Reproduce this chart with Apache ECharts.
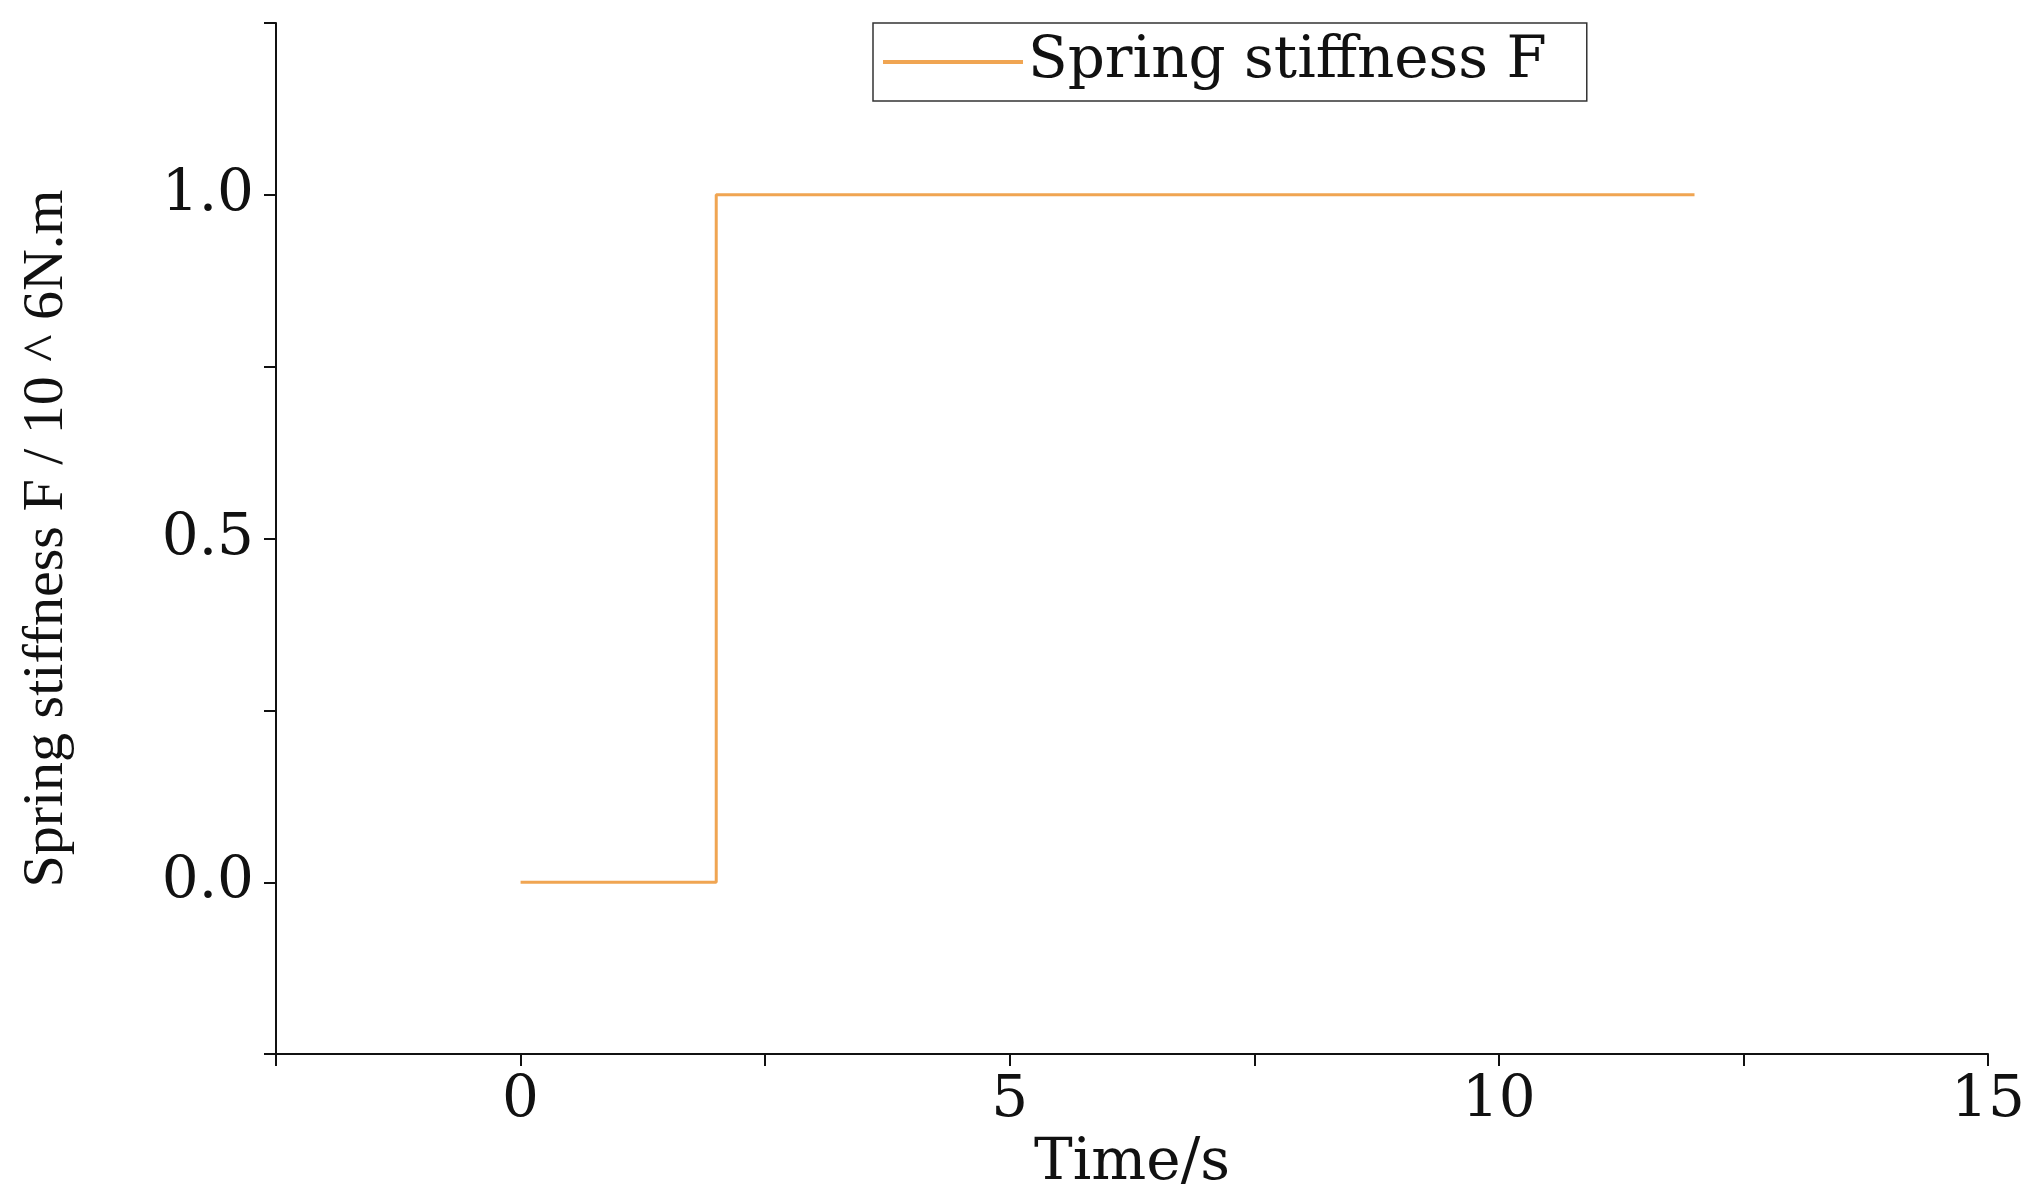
<!DOCTYPE html>
<html><head><meta charset="utf-8">
<script src="https://cdn.jsdelivr.net/npm/echarts@6/dist/echarts.min.js"></script>
<style>html,body{margin:0;padding:0;background:#fff}#c{width:2042px;height:1198px}</style>
</head><body><div id="c"></div>
<script>
const timeValues = [0, 2, 2, 12];
const stiffnessValues = [0, 0, 1, 1];
const seriesName = 'Spring stiffness F';
const xTitle = 'Time/s';
const yTitle = 'Spring stiffness F / 10 ^ 6N.m';

const font = 'DejaVu Serif';
const chart = echarts.init(document.getElementById('c'));
chart.setOption({
  animation: false,
  backgroundColor: '#fff',
  grid: {left: 276, top: 23, right: 54, bottom: 143},
  legend: {
    left: 873, top: 23, width: 765, height: 86,
    padding: [10, 40, 10, 10],
    borderColor: '#333', borderWidth: 1.5, borderRadius: 0,
    itemWidth: 140, itemHeight: 4, itemGap: 10,
    icon: 'rect',
    textStyle: {fontFamily: font, fontSize: 58, color: '#111'},
    data: [seriesName]
  },
  xAxis: {
    type: 'value', min: -2.5, max: 15, interval: 2.5,
    axisLine: {onZero: false, lineStyle: {color: '#111', width: 2}},
    axisTick: {inside: false, length: 12, lineStyle: {width: 2, color: '#111'}},
    splitLine: {show: false},
    axisLabel: {fontFamily: font, fontSize: 58, color: '#111', margin: 18,
      formatter: v => (v >= 0 && Math.abs(v % 5) < 1e-9) ? String(v) : ''},
    name: xTitle, nameLocation: 'middle', nameGap: 66,
    nameTextStyle: {fontFamily: font, fontSize: 58, color: '#111'}
  },
  yAxis: {
    type: 'value', min: -0.25, max: 1.25, interval: 0.25,
    axisLine: {onZero: false, lineStyle: {color: '#111', width: 2}},
    axisTick: {inside: false, length: 12, lineStyle: {width: 2, color: '#111'}},
    splitLine: {show: false},
    axisLabel: {fontFamily: font, fontSize: 58, color: '#111', margin: 22,
      formatter: v => (v >= 0 && v <= 1 && Math.abs((v * 2) % 1) < 1e-9) ? v.toFixed(1) : ''},
    name: yTitle, nameLocation: 'middle', nameGap: 200,
    nameTextStyle: {fontFamily: 'Liberation Serif', fontSize: 58, color: '#111'}
  },
  series: [{
    name: seriesName, type: 'line', showSymbol: false,
    data: timeValues.map((t, i) => [t, stiffnessValues[i]]),
    lineStyle: {color: '#F0A552', width: 3},
    itemStyle: {color: '#F0A552'}
  }]
});
</script></body></html>
